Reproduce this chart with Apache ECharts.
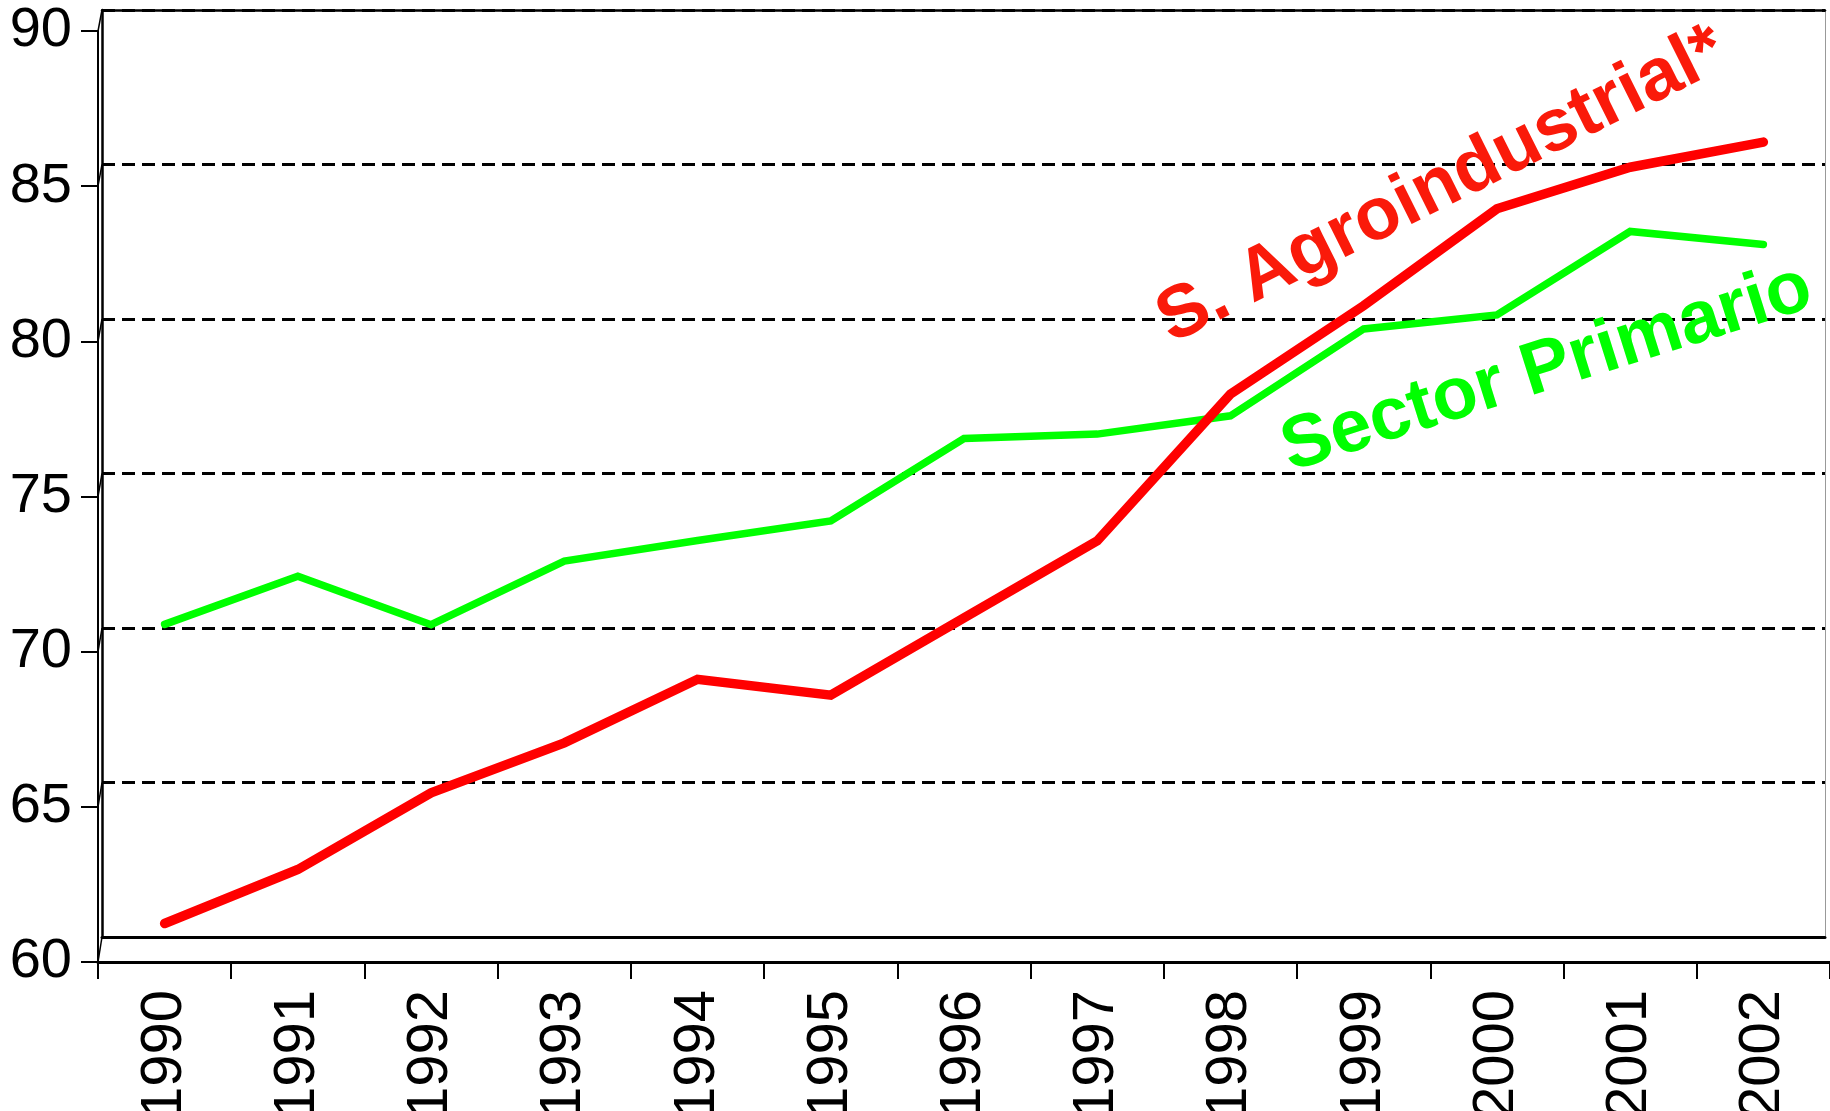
<!DOCTYPE html>
<html>
<head>
<meta charset="utf-8">
<title>Sector Primario / S. Agroindustrial</title>
<script src="https://cdn.jsdelivr.net/npm/echarts@6/dist/echarts.min.js"></script>
<style>
  html, body { margin: 0; padding: 0; background: #fff; }
  #main { width: 1830px; height: 1111px; }
</style>
</head>
<body>
<div id="main"></div>
<script>
// data
var years = ['1990', '1991', '1992', '1993', '1994', '1995', '1996', '1997', '1998', '1999', '2000', '2001', '2002'];
var agroindustrial = [61.24, 62.98, 65.45, 67.06, 69.11, 68.6, 71.09, 73.57, 78.3, 81.15, 84.27, 85.61, 86.42];
var primario = [70.88, 72.43, 70.87, 72.92, 73.58, 74.21, 76.87, 77.01, 77.6, 80.4, 80.85, 83.54, 83.12];
var yTicks = [60, 65, 70, 75, 80, 85, 90];

var FONT = '"Liberation Sans", Arial, sans-serif';
var yMin = yTicks[0], yMax = yTicks[yTicks.length - 1], yStep = yTicks[1] - yTicks[0];

var chart = echarts.init(document.getElementById('main'));

var option = {
    backgroundColor: '#fff',
    animation: false,
    grid: [
        // front plane: the visible axes
        { left: 98, right: 0, top: 31, bottom: 149, outerBoundsMode: 'none', containLabel: false },
        // back wall, shifted up and right
        { left: 102, right: 5, top: 10, bottom: 174, outerBoundsMode: 'none', containLabel: false }
    ],
    xAxis: [
        {
            gridIndex: 0, type: 'category', data: years, boundaryGap: true,
            axisLine: { lineStyle: { color: '#000', width: 3 } },
            axisTick: { show: true, inside: false, length: 17, alignWithLabel: false, lineStyle: { color: '#000', width: 2 } },
            axisLabel: { rotate: 90, margin: 28, color: '#000', fontSize: 58, fontFamily: FONT, interval: 0 },
            splitLine: { show: false }
        },
        {
            gridIndex: 1, type: 'category', data: years, position: 'bottom',
            axisLine: { lineStyle: { color: '#000', width: 3 } },
            axisTick: { show: false }, axisLabel: { show: false }, splitLine: { show: false }
        },
        {
            gridIndex: 1, type: 'category', data: years, position: 'top',
            axisLine: { lineStyle: { color: '#000', width: 2.5 } },
            axisTick: { show: false }, axisLabel: { show: false }, splitLine: { show: false }
        }
    ],
    yAxis: [
        {
            gridIndex: 0, type: 'value', min: yMin, max: yMax, interval: yStep,
            axisLine: { show: true, lineStyle: { color: '#000', width: 2 } },
            axisTick: { show: true, inside: false, length: 17, lineStyle: { color: '#000', width: 2 } },
            axisLabel: { margin: 26, color: '#000', fontSize: 56, fontFamily: FONT },
            splitLine: { show: false }
        },
        {
            gridIndex: 1, type: 'value', min: yMin, max: yMax, interval: yStep, position: 'left',
            axisLine: { show: true, lineStyle: { color: '#000', width: 2.5 } },
            axisTick: { show: false }, axisLabel: { show: false },
            splitLine: { show: true, lineStyle: { color: '#000', width: 3, type: [13, 7] } }
        },
        {
            gridIndex: 1, type: 'value', min: yMin, max: yMax, interval: yStep, position: 'right',
            axisLine: { show: true, lineStyle: { color: '#999', width: 1 } },
            axisTick: { show: false }, axisLabel: { show: false }, splitLine: { show: false }
        }
    ],
    series: [
        {
            name: 'Sector Primario', type: 'line', xAxisIndex: 0, yAxisIndex: 0,
            data: primario, symbol: 'none',
            lineStyle: { color: '#00ff00', width: 7.5, cap: 'round', join: 'miter' },
            z: 3
        },
        {
            name: 'S. Agroindustrial*', type: 'line', xAxisIndex: 0, yAxisIndex: 0,
            data: agroindustrial, symbol: 'none',
            lineStyle: { color: '#ff0000', width: 9.5, cap: 'round', join: 'miter' },
            z: 4
        }
    ]
};

chart.setOption(option);

// labels on the chart plus the small depth strokes joining front ticks to the back wall
var graphics = [
    {
        type: 'text', x: 1442, y: 186, rotation: 26.5 * Math.PI / 180, z: 10,
        style: { text: 'S. Agroindustrial*', font: 'bold 74px ' + FONT, fill: '#fa1a0a', align: 'center', verticalAlign: 'middle' }
    },
    {
        type: 'text', x: 1547, y: 369, rotation: 17.5 * Math.PI / 180, z: 10,
        style: { text: 'Sector Primario', font: 'bold 74px ' + FONT, fill: '#00ff00', align: 'center', verticalAlign: 'middle' }
    }
];
yTicks.forEach(function (v) {
    var yF = chart.convertToPixel({ yAxisIndex: 0 }, v);
    var yB = chart.convertToPixel({ yAxisIndex: 1 }, v);
    graphics.push({
        type: 'line', z: 5,
        shape: { x1: 98, y1: yF, x2: 102, y2: yB },
        style: { stroke: '#000', lineWidth: 1.5 }
    });
});
chart.setOption({ graphic: graphics });
</script>
</body>
</html>
